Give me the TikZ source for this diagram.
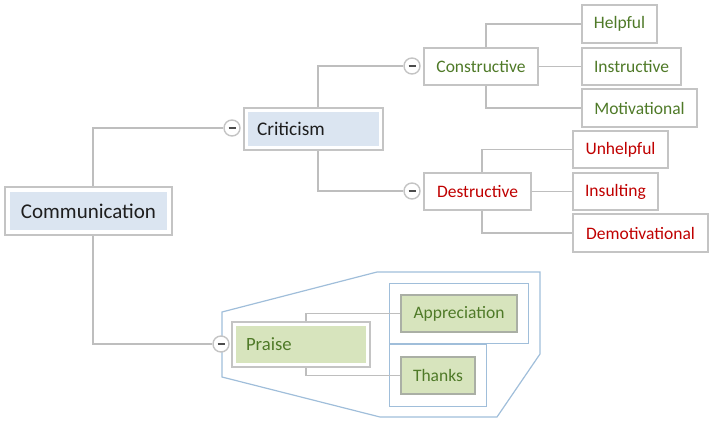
\documentclass[tikz,border=0pt]{standalone}
\usepackage{fontspec}
\setmainfont{Carlito}
\usetikzlibrary{fit}
\definecolor{boxgray}{RGB}{196,196,196}
\definecolor{linegray}{RGB}{190,190,190}
\definecolor{fillblue}{RGB}{219,229,241}
\definecolor{txtgreen}{RGB}{79,122,40}
\definecolor{txtred}{RGB}{192,0,0}
\definecolor{fillgreen}{RGB}{215,228,189}
\definecolor{greenborder}{RGB}{170,175,165}
\definecolor{bluegroup}{RGB}{160,190,218}
\definecolor{txtdark}{RGB}{30,30,30}
\tikzset{
  every node/.style={font=\fontsize{17.5}{20}\selectfont},
  bigfill/.style={fill=fillblue, minimum height=34pt, inner sep=0pt, text=txtdark},
  frame/.style={draw=boxgray, line width=1.6pt, inner sep=4pt},
  leaf/.style={draw=boxgray, line width=1.6pt, fill=white, minimum height=37pt, inner sep=0pt},
  gleaf/.style={draw=greenborder, line width=1.6pt, fill=fillgreen, minimum height=37pt, inner sep=0pt, text=txtgreen},
  region/.style={draw=bluegroup, line width=1.2pt},
  conn/.style={draw=linegray, line width=1.4pt},
  collapse/.style={circle, draw=boxgray, line width=1.4pt, fill=white, minimum size=16pt, inner sep=0pt,
    path picture={\draw[line width=1.8pt, draw=black!70] ([xshift=-3.5pt]path picture bounding box.center) -- ([xshift=3.5pt]path picture bounding box.center);}},
}
\begin{document}
\begin{tikzpicture}[x=1pt,y=-1pt]
\useasboundingbox (0,0) rectangle (713,421);

% main nodes
\node[bigfill, minimum width=157pt, minimum height=38pt, font=\fontsize{21}{24}\selectfont] (comm) at (88.5,211) {Communication};
\node[frame, fit=(comm), inner sep=5pt] (commf) {};

\node[bigfill, text width=113pt, inner xsep=9pt, align=left, font=\fontsize{19.3}{22}\selectfont] (crit) at (313.5,129) {Criticism};
\node[frame, fit=(crit)] (critf) {};

\node[bigfill, fill=fillgreen, text=txtgreen, text width=110pt, inner xsep=10pt, minimum height=37pt, align=left, font=\fontsize{18.7}{22}\selectfont] (praise) at (301,344.5) {Praise};
\node[frame, fit=(praise)] (praisef) {};

% constructive branch
\node[leaf, text=txtgreen, minimum width=114pt] (cons) at (481,66.5) {Constructive};
\node[leaf, text=txtgreen, minimum width=75pt, minimum height=38pt] (help) at (619.5,24) {Helpful};
\node[leaf, text=txtgreen, minimum width=99pt] (instr) at (631.5,66.5) {Instructive};
\node[leaf, text=txtgreen, minimum width=115pt, minimum height=38pt] (motiv) at (639.5,108) {Motivational};

% destructive branch
\node[leaf, text=txtred, minimum width=107pt] (dest) at (477.5,191.5) {Destructive};
\node[leaf, text=txtred, minimum width=95pt] (unhelp) at (620.5,149.5) {Unhelpful};
\node[leaf, text=txtred, minimum width=85pt] (insult) at (615.5,191.5) {Insulting};
\node[leaf, text=txtred, minimum width=135pt, minimum height=38pt] (demot) at (640.5,233) {Demotivational};

% praise branch
\node[gleaf, minimum width=116pt] (appr) at (459,313.5) {Appreciation};
\node[gleaf, minimum width=74pt] (thanks) at (438,375.5) {Thanks};
\node[region, fit=(appr), inner xsep=11pt, inner ysep=11pt] (apprg) {};
\node[region, fit=(thanks), inner xsep=11pt, inner ysep=12pt] (thanksg) {};
\coordinate (b1) at (222,312);
\coordinate (b2) at (377,272);
\coordinate (b3) at (540,272);
\coordinate (b4) at (540,354);
\coordinate (b5) at (497,417);
\coordinate (b6) at (380,417);
\coordinate (b7) at (222,377);
\draw[region] (b1) -- (b2) -- (b3) -- (b4) -- (b5) -- (b6) -- (b7) -- cycle;

% collapse markers
\node[collapse] (c1) at (232,128) {};
\node[collapse] (c2) at (412,66) {};
\node[collapse] (c3) at (412,191) {};
\node[collapse] (c4) at (221,344) {};

% connectors
\path[conn] ([xshift=4.5pt]commf.north) |- (c1.west);
\path[conn] ([xshift=4.5pt]commf.south) |- (c4.west);
\path[conn] ([xshift=4.5pt]critf.north) |- (c2.west);
\path[conn] ([xshift=4.5pt]critf.south) |- (c3.west);
\path[conn] ([xshift=5pt]cons.north) |- (help.west);
\path[conn] (cons.east) -- (instr.west);
\path[conn] ([xshift=5pt]cons.south) |- (motiv.west);
\path[conn] ([xshift=4.5pt]dest.north) |- (unhelp.west);
\path[conn] (dest.east) -- (insult.west);
\path[conn] ([xshift=4.5pt]dest.south) |- (demot.west);
\path[conn] ([xshift=5pt]praisef.north) |- (appr.west);
\path[conn] ([xshift=5pt]praisef.south) |- (thanks.west);
\end{tikzpicture}
\end{document}
